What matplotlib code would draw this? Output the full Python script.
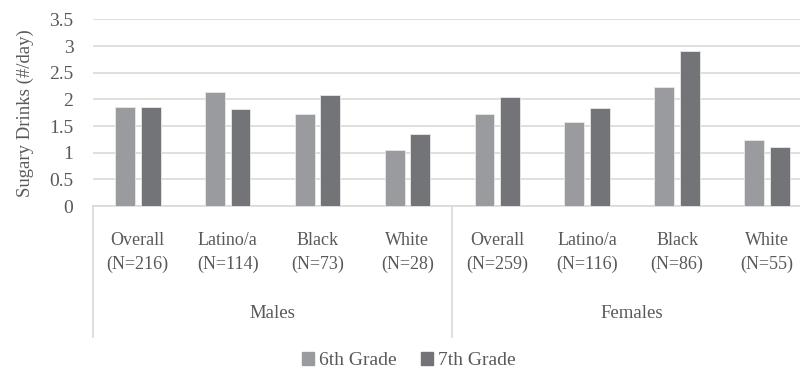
import numpy as np
import matplotlib.pyplot as plt
from matplotlib.patches import Patch

groups = ['Males', 'Females']
categories = ['Overall\n(N=216)', 'Latino/a\n(N=114)', 'Black\n(N=73)', 'White\n(N=28)',
              'Overall\n(N=259)', 'Latino/a\n(N=116)', 'Black\n(N=86)', 'White\n(N=55)']
grade6 = [1.86, 2.13, 1.73, 1.06, 1.73, 1.57, 2.23, 1.24]
grade7 = [1.86, 1.82, 2.08, 1.35, 2.04, 1.83, 2.91, 1.11]

col6 = '#9a9b9f'
col7 = '#737478'
txt = '#595959'
grid = '#d9d9d9'

plt.rcParams['font.family'] = ['Liberation Serif', 'DejaVu Serif']

fig = plt.figure(figsize=(8, 3.72), dpi=100)
ax = fig.add_axes([0.116, 0.446, 0.899, 0.502])

x = np.arange(len(categories))
w = 0.222
off = 0.143
ax.bar(x - off, grade6, w, color=col6, edgecolor='#e8e8e8', linewidth=0.6, zorder=3)
ax.bar(x + off, grade7, w, color=col7, edgecolor='#e8e8e8', linewidth=0.6, zorder=3)

ax.set_xlim(-0.5, len(categories) - 0.5)
ax.set_ylim(0, 3.5)
ax.set_yticks(np.arange(0, 3.51, 0.5))
ax.set_yticklabels(['0', '0.5', '1', '1.5', '2', '2.5', '3', '3.5'])
ax.yaxis.grid(True, color=grid, linewidth=1.2, zorder=0)
ax.set_axisbelow(True)
for s in ['top', 'right', 'left']:
    ax.spines[s].set_visible(False)
ax.spines['bottom'].set_color(grid)
ax.spines['bottom'].set_linewidth(1.2)

ax.set_xticks(x)
ax.set_xticklabels(categories, fontsize=13, color=txt, linespacing=1.45)
ax.tick_params(axis='x', length=0, pad=19)
ax.tick_params(axis='y', length=0, labelsize=14, labelcolor=txt, pad=14)
ax.set_ylabel('Sugary Drinks (#/day)', fontsize=13.5, color=txt, labelpad=11)

# group separators and labels
tr = ax.get_xaxis_transform()
n = len(categories) // len(groups)
for i, g in enumerate(groups):
    left = i * n - 0.5
    ax.plot([left, left], [0, -0.70], transform=tr, color=grid, linewidth=1.2, clip_on=False)
    ax.text(left + n / 2, -0.575, g, transform=tr, ha='center', va='center',
            fontsize=13.5, color=txt)
ax.plot([len(categories) - 0.5] * 2, [0, -0.70], transform=tr, color=grid,
        linewidth=1.2, clip_on=False)

handles = [Patch(color=col6, label='6th Grade'), Patch(color=col7, label='7th Grade')]
fig.legend(handles=handles, loc='center', bbox_to_anchor=(0.511, 0.03), ncol=2,
           frameon=False, fontsize=14, labelcolor=txt, handlelength=0.6,
           handleheight=0.6, handletextpad=0.25, columnspacing=1.3,
           borderpad=0.1)

fig.savefig('out.png', dpi=100)
